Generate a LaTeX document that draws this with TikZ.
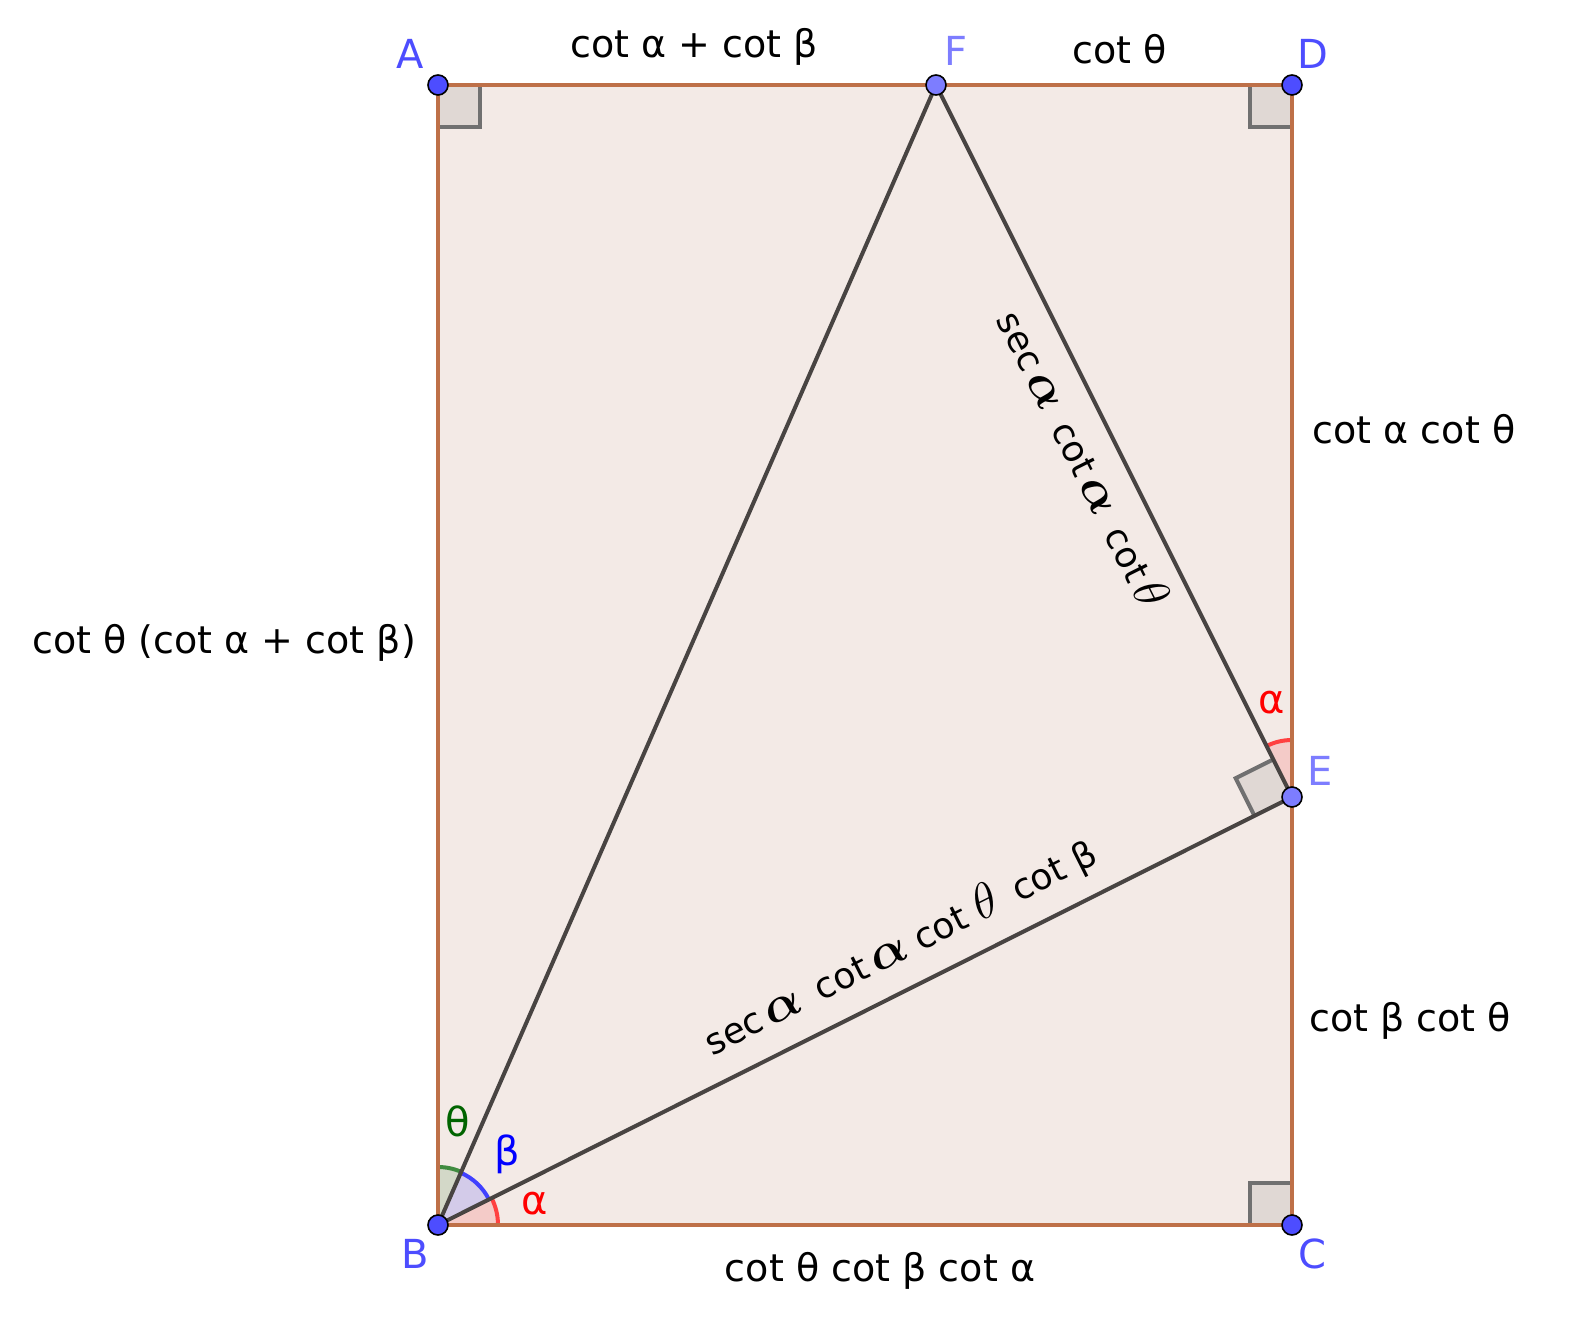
\documentclass[tikz,border=0pt]{standalone}
\usepackage{amsmath}
\usepackage{fontspec}
\setmainfont{DejaVu Sans}
\usepackage{tikz}
\usetikzlibrary{calc}
\definecolor{ptblue}{RGB}{77,77,255}
\definecolor{ptlight}{RGB}{125,125,255}
\definecolor{rectfill}{RGB}{243,234,230}
\definecolor{rectline}{RGB}{190,112,72}
\definecolor{segline}{RGB}{72,68,66}
\definecolor{sqfill}{RGB}{224,216,212}
\definecolor{sqline}{RGB}{112,112,112}
\definecolor{thetagreen}{RGB}{0,100,0}
\newcommand{\salpha}{{\fontsize{23}{26}\selectfont$\boldsymbol{\alpha}$}}
\newcommand{\stheta}{{\fontsize{23}{26}\selectfont$\theta$}}

\begin{document}
\begin{tikzpicture}[x=0.5pt,y=0.5pt,
  vertex/.style={circle,draw=black,fill=ptblue,line width=0.8pt,inner sep=0pt,minimum size=10pt},
  vlabel/.style={text=ptblue,font=\fontsize{20}{24}\selectfont},
  sidelabel/.style={font=\fontsize{19}{23}\selectfont},
  anglabel/.style={font=\fontsize{20}{24}\selectfont},
  seglabel/.style={font=\fontsize{18}{22}\selectfont},
  seg/.style={draw=segline,line width=2pt}]
\useasboundingbox (0,0) rectangle (1572,1324);
\coordinate (A) at (438,1239);
\coordinate (B) at (438,99);
\coordinate (C) at (1292,99);
\coordinate (D) at (1292,1239);
\coordinate (F) at (936,1239);
\coordinate (E) at (1292,527);
\fill[rectfill] (A) rectangle (C);
\fill[sqfill] (A) rectangle ++(42,-42);
\draw[sqline,line width=2pt] ($(A)+(0,-42)$) -- ++(42,0) -- ++(0,42);
\fill[sqfill] (D) rectangle ++(-42,-42);
\draw[sqline,line width=2pt] ($(D)+(0,-42)$) -- ++(-42,0) -- ++(0,42);
\fill[sqfill] (C) rectangle ++(-42,42);
\draw[sqline,line width=2pt] ($(C)+(0,42)$) -- ++(-42,0) -- ++(0,-42);
\fill[sqfill] (E) -- ($(E)+(116.57:42)$) -- ($(E)+(116.57:42)+(206.57:42)$) -- ($(E)+(206.57:42)$) -- cycle;
\draw[sqline,line width=2pt] ($(E)+(116.57:42)$) -- ($(E)+(116.57:42)+(206.57:42)$) -- ($(E)+(206.57:42)$);
\fill[red,opacity=0.13] (B) -- ++(0:60) arc[start angle=0,end angle=26.62,radius=60] -- cycle;
\draw[red!75,line width=2pt] ($(B)+(0:60)$) arc[start angle=0,end angle=26.62,radius=60];
\fill[blue,opacity=0.13] (B) -- ++(26.62:57) arc[start angle=26.62,end angle=66.41,radius=57] -- cycle;
\draw[blue!75,line width=2pt] ($(B)+(26.62:57)$) arc[start angle=26.62,end angle=66.41,radius=57];
\fill[thetagreen,opacity=0.13] (B) -- ++(66.41:58) arc[start angle=66.41,end angle=90,radius=58] -- cycle;
\draw[thetagreen!75,line width=2pt] ($(B)+(66.41:58)$) arc[start angle=66.41,end angle=90,radius=58];
\fill[red,opacity=0.13] (E) -- ++(90:57) arc[start angle=90,end angle=116.57,radius=57] -- cycle;
\draw[red!75,line width=2pt] ($(E)+(90:57)$) arc[start angle=90,end angle=116.57,radius=57];
\draw[seg] (B) -- (F) -- (E) -- cycle;
\draw[rectline,line width=1.8pt] (A) -- (D) -- (C) -- (B) -- cycle;
\node[vertex] (pA) at (A) {};
\node[vertex] (pB) at (B) {};
\node[vertex] (pC) at (C) {};
\node[vertex] (pD) at (D) {};
\node[vertex,fill=ptlight] (pF) at (F) {};
\node[vertex,fill=ptlight] (pE) at (E) {};
\node[vlabel] (lA) at (410,1270) {A};
\node[vlabel] (lD) at (1313,1270) {D};
\node[vlabel,text=ptlight] (lF) at (956,1273) {F};
\node[vlabel] (lB) at (415,70) {B};
\node[vlabel] (lC) at (1312,70) {C};
\node[vlabel,text=ptlight] (lE) at (1320,553) {E};
\node[sidelabel] (lAF) at (694,1277) {cot α + cot β};
\node[sidelabel] (lFD) at (1120,1275) {cot θ};
\node[sidelabel] (lDE) at (1414,895) {cot α cot θ};
\node[sidelabel] (lAB) at (224,681) {cot θ (cot α + cot β)};
\node[sidelabel] (lEC) at (1410,303) {cot β cot θ};
\node[sidelabel] (lBC) at (880,53) {cot θ cot β cot α};
\node[seglabel,rotate=26.62] (lBE) at (900,377) {sec\,\salpha\enspace cot\,\salpha\ cot \stheta\enspace cot β};
\node[seglabel,rotate=-63.43] (lFE) at (1084,866) {sec\,\salpha\enspace cot\,\salpha\enspace cot\,\stheta};
\node[anglabel,text=thetagreen] (aT) at (458,203) {θ};
\node[anglabel,text=blue] (aBe) at (507,170) {β};
\node[anglabel,text=red] (aAl) at (535,120) {α};
\node[anglabel,text=red] (aAlE) at (1272,621) {α};
\end{tikzpicture}
\end{document}
